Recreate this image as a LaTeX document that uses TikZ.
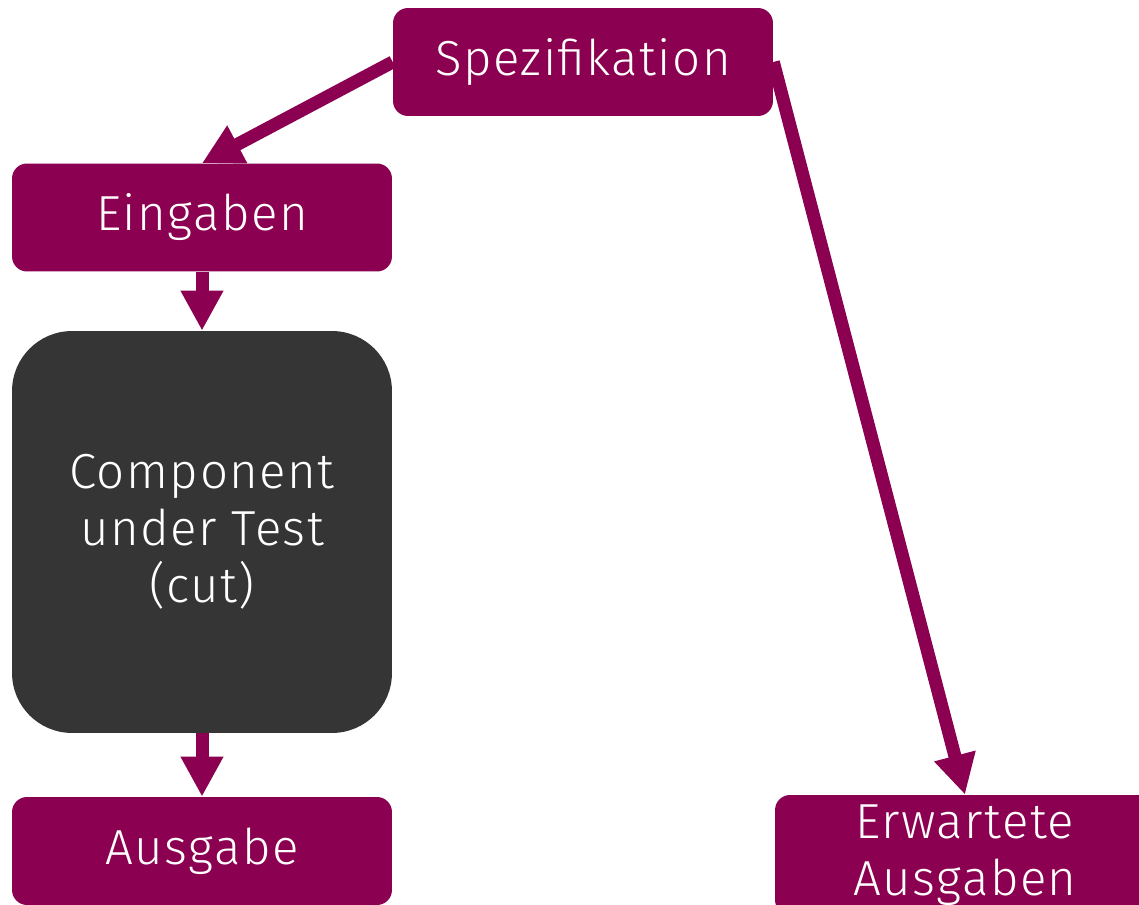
\documentclass[tikz,border=0pt]{standalone}
\usepackage{fontspec}
\setmainfont{Fira Sans}[UprightFont={* Light},LetterSpace=3.0]
\usetikzlibrary{arrows.meta}
\definecolor{spezcol}{HTML}{8B0050}
\definecolor{cutcol}{HTML}{353535}
\tikzset{
  box/.style={fill=spezcol,text=white,rounded corners=0.3cm,minimum width=7.6cm,minimum height=2.16cm,align=center,inner sep=0pt,
    font=\fontsize{28}{32.4}\selectfont},
  cutbox/.style={box,fill=cutcol,rounded corners=1.2cm,minimum height=8.04cm},
  arr/.style={draw=spezcol,line width=0.26cm,-{Triangle[length=0.8cm,width=0.8cm]}}
}
\begin{document}
\begin{tikzpicture}[x=0.02cm,y=-0.02cm]
\useasboundingbox (0,0) rectangle (1139,905);
\clip (0,0) rectangle (1139,905);
\node[box] (spez) at (583,62) {Spezifikation};
\node[box] (ein) at (202,217.5) {Eingaben};
\node[cutbox] (cut) at (202,532) {Component\\under Test\\(cut)};
\node[box] (aus) at (202,851) {Ausgabe};
\node[box,minimum height=2.4cm] (erw) at (965,855) {Erwartete\\Ausgaben};
\draw[arr] (spez.west) -- (ein.north);
\draw[arr] (ein.south) -- (cut.north);
\draw[arr] (cut.south) -- (aus.north);
\draw[arr] (spez.east) -- (erw.north);
\end{tikzpicture}
\end{document}
